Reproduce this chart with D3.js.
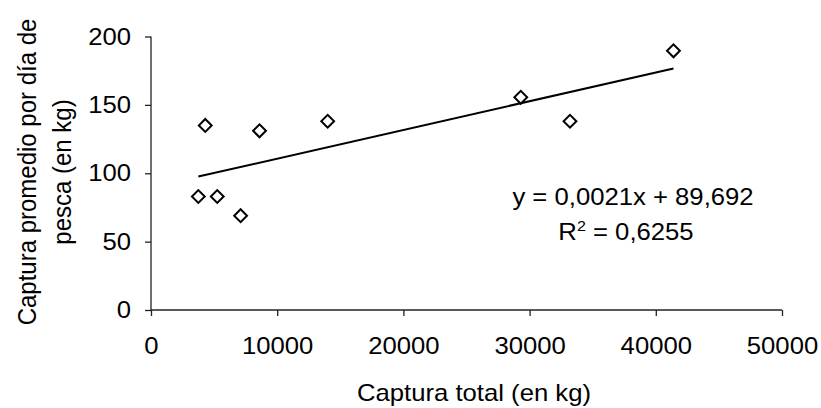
<!DOCTYPE html>
<html>
<head>
<meta charset="utf-8">
<script src="https://cdn.jsdelivr.net/npm/d3@7"></script>
<style>
  html,body{margin:0;padding:0;background:#fff;}
  svg{display:block;font-family:"Liberation Sans",Arial,sans-serif;}
</style>
</head>
<body>
<div id="chart"></div>
<script>
// captura total (kg) vs captura promedio por día de pesca (kg)
const capturaTotal=[3750,4300,5250,7100,8600,14000,29300,33200,41400];
const capturaDia=[83,135,83,69,131,138,155.5,138,189.5];
const xTicks=[0,10000,20000,30000,40000,50000];
const yTicks=[0,50,100,150,200];
const trend={slope:0.0021,intercept:89.692};
const eqLines=["y = 0,0021x + 89,692","R|2| = 0,6255"];

const W=821,H=408;
const svg=d3.select("#chart").append("svg").attr("width",W).attr("height",H);
const x=d3.scaleLinear().domain([0,50000]).range([151,782]);
const y=d3.scaleLinear().domain([0,200]).range([310,36.5]);
const fs=24, sx=1.07; // text in the source looks a bit wide
const ff="Liberation Sans, Arial, sans-serif";

// axes
svg.append("g").attr("transform","translate(0,310)")
  .call(d3.axisBottom(x).tickValues(xTicks).tickFormat(d3.format("d")).tickSize(6).tickPadding(21))
  .call(s=>s.select(".domain").attr("d",`M${x(0)},0H${x(50000)}`).attr("stroke","#222").attr("stroke-width",1.3))
  .call(s=>s.selectAll("line").attr("stroke","#222").attr("stroke-width",1.3))
  .call(s=>s.selectAll("text").attr("font-size",fs).attr("fill","#000").attr("font-family",ff)
    .attr("transform",`scale(${sx},1)`));
svg.append("g").attr("transform","translate(151,0)")
  .call(d3.axisLeft(y).tickValues(yTicks).tickSize(6))
  .call(s=>s.select(".domain").attr("d",`M0,${y(0)}V${y(200)}`).attr("stroke","#222").attr("stroke-width",1.3))
  .call(s=>s.selectAll("line").attr("stroke","#222").attr("stroke-width",1.3))
  .call(s=>s.selectAll("text").attr("x",0).attr("font-size",fs).attr("fill","#000").attr("font-family",ff)
    .attr("transform",`translate(-20,0) scale(${sx},1)`));

// trend line from min to max x
const xs=d3.extent(capturaTotal);
svg.append("line")
  .attr("x1",x(xs[0])).attr("y1",y(trend.slope*xs[0]+trend.intercept))
  .attr("x2",x(xs[1])).attr("y2",y(trend.slope*xs[1]+trend.intercept))
  .attr("stroke","#000").attr("stroke-width",2);

// diamonds
svg.selectAll(".pt").data(capturaTotal).join("path")
  .attr("d",d3.symbol(d3.symbolSquare,82))
  .attr("transform",(d,i)=>`translate(${x(d)},${y(capturaDia[i])}) rotate(45)`)
  .attr("fill","#fff").attr("stroke","#000").attr("stroke-width",2);

// equation
svg.append("text").attr("transform",`translate(633,205) scale(${sx},1)`)
  .attr("font-size",fs).attr("text-anchor","middle").text(eqLines[0]);
const parts=eqLines[1].split("|");
const l2=svg.append("text").attr("transform",`translate(626,240) scale(${sx},1)`)
  .attr("font-size",fs).attr("text-anchor","middle");
l2.append("tspan").text(parts[0]);
l2.append("tspan").attr("font-size",15).attr("dy",-9).text(parts[1]);
l2.append("tspan").attr("dy",9).text(parts[2]);

// axis titles
svg.append("text").attr("transform",`translate(474,401) scale(${sx},1)`)
  .attr("text-anchor","middle").attr("font-size",fs).text("Captura total (en kg)");
const yTitle=["Captura promedio por día de","pesca (en kg)"];
const yBase=[36,71];
svg.selectAll(".ytitle").data(yTitle).join("text")
  .attr("transform",(d,i)=>`translate(${yBase[i]},172) rotate(-90) scale(1,${sx})`)
  .attr("text-anchor","middle").attr("font-size",fs).text(d=>d);
</script>
</body>
</html>
